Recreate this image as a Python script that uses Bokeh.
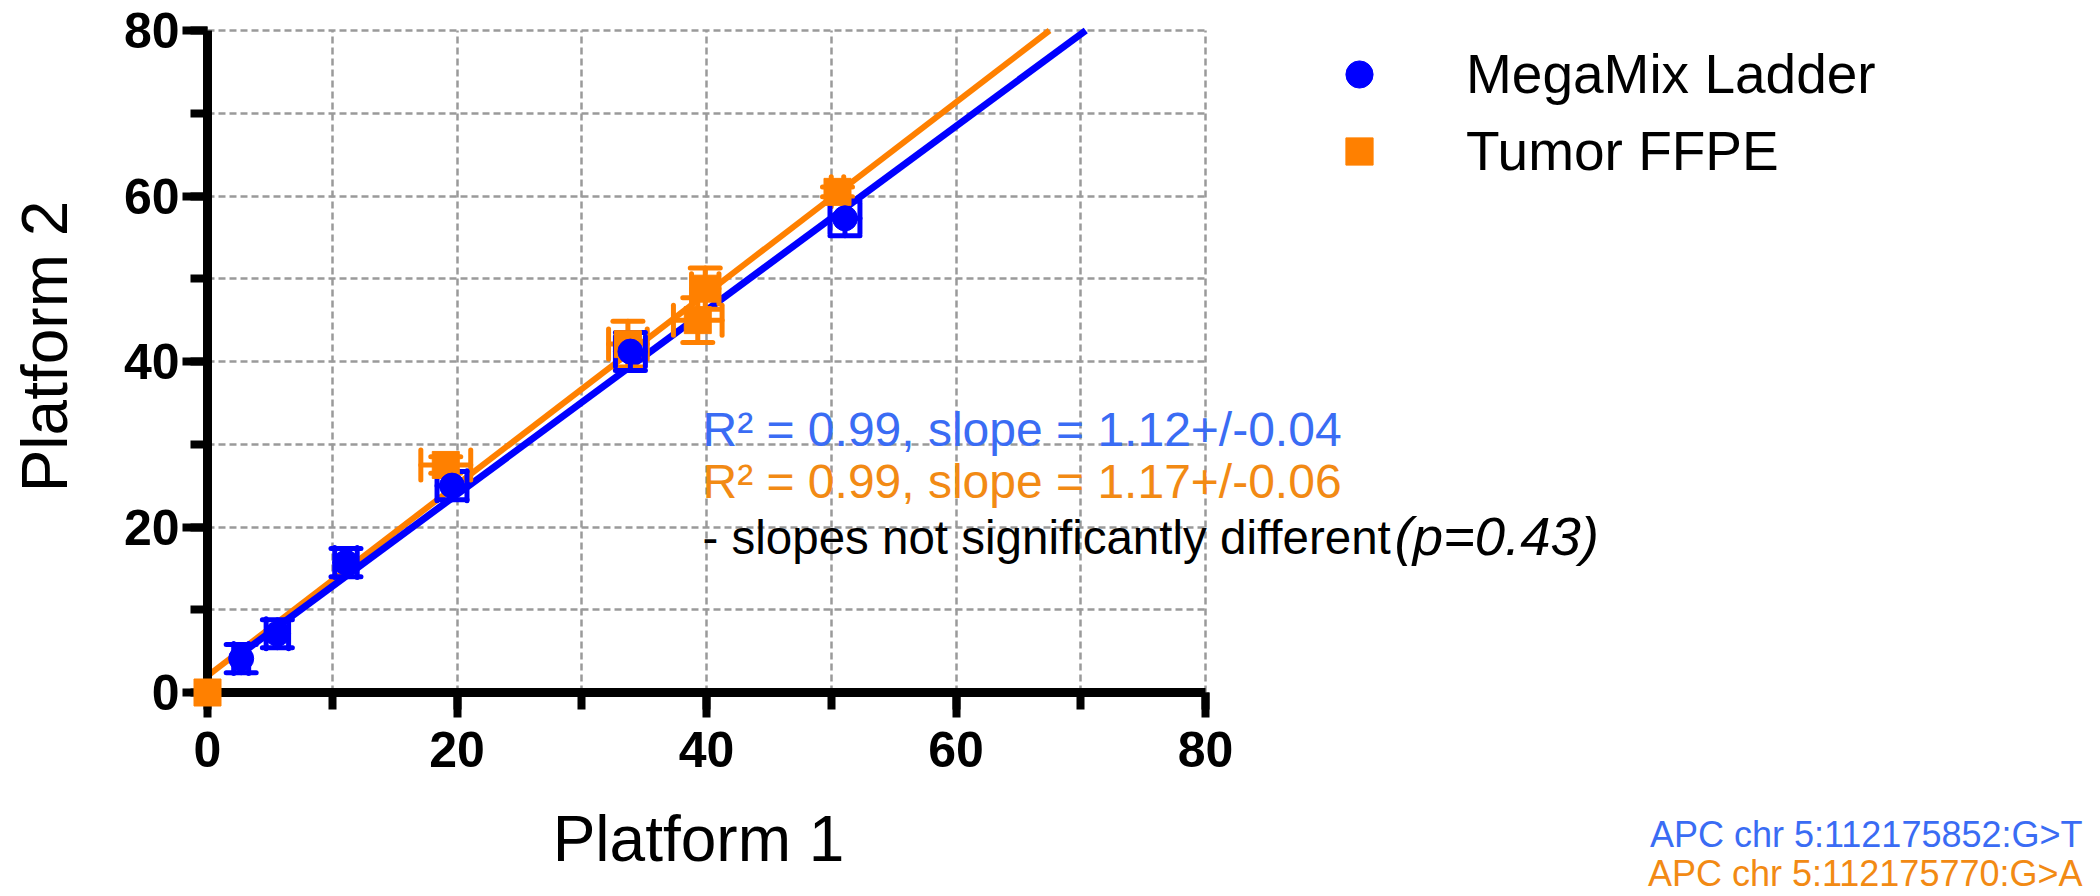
from bokeh.plotting import figure
from bokeh.models import (ColumnDataSource, Whisker, TeeHead, Legend, LegendItem,
                          SingleIntervalTicker, Range1d)
from bokeh.core.properties import value
from bokeh.embed import file_html
from bokeh.resources import INLINE

# ---------------- data ----------------
series_names = ["MegaMix Ladder", "Tumor FFPE"]

megamix_x = [2.7, 5.6, 11.1, 19.6, 33.9, 51.1]
megamix_y = [4.1, 7.1, 15.7, 25.0, 41.2, 57.3]
megamix_xerr = [0.6, 0.9, 0.9, 1.2, 1.2, 1.2]
megamix_yerr = [1.7, 1.7, 1.7, 1.7, 2.3, 2.1]

tumor_x = [0.0, 19.1, 33.7, 39.3, 39.9, 50.5]
tumor_y = [0.0, 27.5, 42.1, 45.0, 48.8, 60.5]
tumor_xerr = [0.0, 2.0, 1.55, 1.95, 1.1, 0.5]
tumor_yerr = [0.0, 1.0, 2.75, 2.7, 2.5, 0.6]

# linear fits (end points of the drawn regression lines)
megamix_fit_x = [2.7, 70.4]
megamix_fit_y = [4.7, 80.0]
tumor_fit_x = [0.0, 67.5]
tumor_fit_y = [2.0, 80.0]

axis_min, axis_max = 0, 80
x_title = "Platform 1"
y_title = "Platform 2"
stats_lines = ["R\u00b2 = 0.99, slope = 1.12+/-0.04", "R\u00b2 = 0.99, slope = 1.17+/-0.06"]
note_text = "- slopes not significantly different "
note_p = "(p=0.43)"
variant_labels = ["APC chr 5:112175852:G>T", "APC chr 5:112175770:G>A"]

# ---------------- styling / geometry ----------------
W, H = 2100, 896
AX_LEFT, AX_RIGHT, AX_TOP, AX_BOTTOM = 207, 1205, 30, 692   # pixel box of the 0..80 axes
BLUE = "#0000ff"
ORANGE = "#ff8000"
TXT_BLUE = "#3a6cf4"
TXT_ORANGE = "#f28a14"
FONT = "Liberation Sans"
SPAN = axis_max - axis_min


def dx(px):
    return (px - AX_LEFT) / (AX_RIGHT - AX_LEFT) * SPAN


def dy(py):
    return (AX_BOTTOM - py) / (AX_BOTTOM - AX_TOP) * SPAN


# the frame covers everything right of / above the axes so nothing gets clipped;
# the axes themselves are bounded to 0..80
p = figure(width=W, height=H, output_backend="svg", toolbar_location=None,
           x_range=Range1d(axis_min, dx(W)), y_range=Range1d(axis_min, dy(0)),
           min_border_left=AX_LEFT, min_border_right=0,
           min_border_top=0, min_border_bottom=H - AX_BOTTOM)
p.outline_line_color = None
p.background_fill_color = "white"
p.border_fill_color = "white"

# axes
for ax in (p.xaxis[0], p.yaxis[0]):
    ax.bounds = (axis_min, axis_max)
    ax.ticker = SingleIntervalTicker(interval=20, num_minor_ticks=2)
    ax.axis_line_width = 9
    ax.axis_line_color = "black"
    ax.major_tick_line_width = 8
    ax.minor_tick_line_width = 8
    ax.major_tick_line_color = "black"
    ax.minor_tick_line_color = "black"
    ax.major_tick_in = 0
    ax.major_tick_out = 25
    ax.minor_tick_in = 0
    ax.minor_tick_out = 17
    ax.major_label_text_font = FONT
    ax.major_label_text_font_style = "bold"
    ax.major_label_text_font_size = "50px"
    ax.major_label_text_color = "black"
    ax.axis_label_text_font = FONT
    ax.axis_label_text_font_style = "normal"
    ax.axis_label_text_font_size = "64px"
    ax.axis_label_text_color = "black"

p.yaxis[0].axis_label = y_title
p.xaxis[0].major_label_standoff = 14
p.yaxis[0].major_label_standoff = 3
p.yaxis[0].axis_label_standoff = 40

# grid (every 10, limited to the axes box)
for g in (p.xgrid[0], p.ygrid[0]):
    g.ticker = SingleIntervalTicker(interval=10)
    g.bounds = (axis_min, axis_max + 0.01)
    g.cross_bounds = (axis_min, axis_max)
    g.grid_line_color = "#9a9a9a"
    g.grid_line_width = 2.5
    g.grid_line_dash = "7 4"

# fit lines
p.line(tumor_fit_x, tumor_fit_y, line_color=ORANGE, line_width=6)
p.line(megamix_fit_x, megamix_fit_y, line_color=BLUE, line_width=7)


def add_errors(xs, ys, xe, ye, color):
    vb, vl, vu = [], [], []
    hb, hl, hu = [], [], []
    for x, y, ex, ey in zip(xs, ys, xe, ye):
        if ey > 0:
            vb.append(x); vl.append(y - ey); vu.append(y + ey)
        if ex > 0:
            hb.append(y); hl.append(x - ex); hu.append(x + ex)
    for (b, lo, up, dim) in ((vb, vl, vu, "height"), (hb, hl, hu, "width")):
        src = ColumnDataSource(dict(base=b, lower=lo, upper=up))
        w = Whisker(source=src, base="base", lower="lower", upper="upper", dimension=dim,
                    line_color=color, line_width=5, line_cap="round", level="glyph",
                    upper_head=TeeHead(size=30, line_color=color, line_width=5, line_cap="round"),
                    lower_head=TeeHead(size=30, line_color=color, line_width=5, line_cap="round"))
        p.add_layout(w)


add_errors(tumor_x, tumor_y, tumor_xerr, tumor_yerr, ORANGE)
add_errors(megamix_x, megamix_y, megamix_xerr, megamix_yerr, BLUE)

r_tumor = p.scatter(tumor_x, tumor_y, marker="square", size=27, fill_color=ORANGE,
                    line_color=ORANGE, level="annotation")
r_mega = p.scatter(megamix_x, megamix_y, marker="circle", size=25, fill_color=BLUE,
                   line_color=BLUE, level="annotation")

legend = Legend(items=[LegendItem(label=series_names[0], renderers=[r_mega]),
                       LegendItem(label=series_names[1], renderers=[r_tumor])],
                location=(1118, 507), orientation="vertical",
                label_text_font=FONT, label_text_font_size="55px", label_text_color="black",
                glyph_width=68, glyph_height=68, label_standoff=73, spacing=9,
                padding=0, margin=0, border_line_color=None, background_fill_alpha=0)
p.add_layout(legend)


def put_text(px, py, txt, color, size, style="normal", align="left"):
    p.text(x=[dx(px)], y=[dy(py)], text=[txt], text_color=color, text_font=value(FONT),
           text_font_size=value(size), text_font_style=style, text_align=align,
           text_baseline="alphabetic", level="annotation")


# x axis title, centred under the 0..80 axis
put_text(698, 838, x_title, "black", "64px", align="center")

# statistics text
stat_colors = [TXT_BLUE, TXT_ORANGE]
for txt, col, by in zip(stats_lines, stat_colors, [429, 481]):
    put_text(702, by, txt, col, "48px")
put_text(702, 537, note_text, "black", "47.5px")
put_text(1394, 536, note_p, "black", "54.5px", style="italic")

# variant labels bottom right
for txt, col, by in zip(variant_labels, stat_colors, [834, 873]):
    put_text(2082, by, txt, col, "36px", align="right")

open("out.html", "w").write(file_html(p, INLINE))
